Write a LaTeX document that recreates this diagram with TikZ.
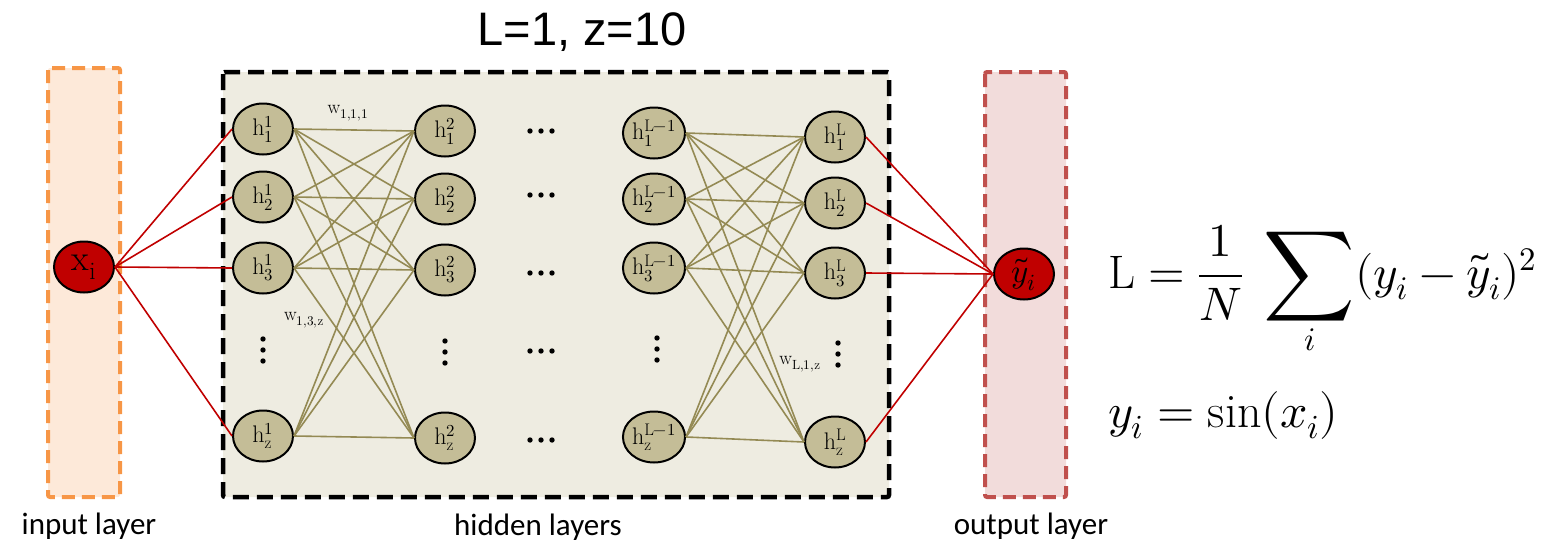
\documentclass[tikz,border=0pt]{standalone}
\usepackage{fontspec}
\usepackage{unicode-math}
\setmathfont{Latin Modern Math}
\usepackage{graphicx}
\usetikzlibrary{shapes.geometric}
\newfontfamily\titlefont{Liberation Sans}
\newfontfamily\labelfont{Carlito}

\definecolor{inFill}{HTML}{FDE9D9}
\definecolor{inEdge}{HTML}{F79646}
\definecolor{hidFill}{HTML}{EEECE1}
\definecolor{outFill}{HTML}{F2DCDB}
\definecolor{outEdge}{HTML}{C0504D}
\definecolor{neuronFill}{HTML}{C4BD97}
\definecolor{weightCol}{HTML}{948A54}
\definecolor{sigRed}{HTML}{C00000}

\tikzset{
  neuron/.style={ellipse, draw=black, line width=2pt, fill=neuronFill,
    minimum width=60pt, minimum height=51pt, inner sep=0pt,
    font=\fontsize{24}{28}\selectfont},
  ioneuron/.style={neuron, fill=sigRed},
  weight/.style={draw=weightCol, line width=1.6pt},
  signal/.style={draw=sigRed, line width=1.6pt},
  wlabel/.style={inner sep=0pt, font=\fontsize{19}{22}\selectfont},
  layerlabel/.style={inner sep=0pt, font=\labelfont\fontsize{31}{36}\selectfont},
  dotmark/.style={fill=black}
}

\begin{document}
\begin{tikzpicture}[x=1pt,y=-1pt]
\useasboundingbox (0,0) rectangle (1543,549);

% layer frames
\draw[fill=inFill, draw=inEdge, line width=4pt, dash pattern=on 13pt off 7pt,
  rounded corners=2pt] (48,68) rectangle (120,497);
\draw[fill=hidFill, draw=black, line width=4.5pt, dash pattern=on 16pt off 8pt,
  rounded corners=2pt] (223,72) rectangle (889,497);
\draw[fill=outFill, draw=outEdge, line width=4pt, dash pattern=on 13pt off 7pt,
  rounded corners=2pt] (985,72) rectangle (1066,497);

% title and layer captions
\node[inner sep=0pt, font=\titlefont\fontsize{47}{56}\selectfont] (title) at (582,32) {L=1, z=10};
\node[layerlabel] (inlab) at (89,526) {input layer};
\node[layerlabel] (hidlab) at (538,527) {hidden layers};
\node[layerlabel] (outlab) at (1031,526) {output layer};

% input and output neurons
\node[ioneuron, font=\fontsize{36}{40}\selectfont] (x) at (84,267) {$\mathrm{x}_{\mathrm{i}}$};
\node[ioneuron, font=\fontsize{33}{38}\selectfont] (y) at (1024,274) {$\tilde{y}_{i}$};

% hidden layer 1
\node[neuron] (a1) at (263,129) {$\mathrm{h}^{1}_{1}$};
\node[neuron] (a2) at (263,197) {$\mathrm{h}^{1}_{2}$};
\node[neuron] (a3) at (263,268) {$\mathrm{h}^{1}_{3}$};
\node[neuron] (az) at (263,436) {$\mathrm{h}^{1}_{\mathrm{z}}$};
% hidden layer 2
\node[neuron] (b1) at (445,131) {$\mathrm{h}^{2}_{1}$};
\node[neuron] (b2) at (445,199) {$\mathrm{h}^{2}_{2}$};
\node[neuron] (b3) at (445,270) {$\mathrm{h}^{2}_{3}$};
\node[neuron] (bz) at (445,438) {$\mathrm{h}^{2}_{\mathrm{z}}$};
% hidden layer L-1
\node[neuron] (c1) at (654,133) {$\mathrm{h}^{\mathrm{L}-1}_{1}$};
\node[neuron] (c2) at (654,199) {$\mathrm{h}^{\mathrm{L}-1}_{2}$};
\node[neuron] (c3) at (654,268) {$\mathrm{h}^{\mathrm{L}-1}_{3}$};
\node[neuron] (cz) at (654,437) {$\mathrm{h}^{\mathrm{L}-1}_{\mathrm{z}}$};
% hidden layer L
\node[neuron] (d1) at (835,137) {$\mathrm{h}^{\mathrm{L}}_{1}$};
\node[neuron] (d2) at (835,203) {$\mathrm{h}^{\mathrm{L}}_{2}$};
\node[neuron] (d3) at (835,273) {$\mathrm{h}^{\mathrm{L}}_{3}$};
\node[neuron] (dz) at (835,442) {$\mathrm{h}^{\mathrm{L}}_{\mathrm{z}}$};

% input to first hidden layer
\foreach \k in {1,2,3,z} \draw[signal] (x.east) -- (a\k.west);
% fully connected hidden layers
\foreach \i in {1,2,3,z} {
  \foreach \j in {1,2,3,z} {
    \draw[weight] (a\i.east) -- (b\j.west);
    \draw[weight] (c\i.east) -- (d\j.west);
  }
}
% last hidden layer to output
\foreach \k in {1,2,3,z} \draw[signal] (d\k.east) -- (y.west);

% weight labels
\node[wlabel] (w111) at (348,113) {$\mathrm{w}_{1,1,1}$};
\node[wlabel] (w13z) at (304,320) {$\mathrm{w}_{1,3,\mathrm{z}}$};
\node[wlabel] (wL1z) at (800,364) {$\mathrm{w}_{\mathrm{L},1,\mathrm{z}}$};

% vertical ellipses inside the layers
\foreach \cx/\cy in {263/350, 445/352, 657/349, 838/354} {
  \foreach \d in {-11,0,11} \fill[dotmark] (\cx,\cy+\d) circle (2.7pt);
}
% horizontal ellipses between layer 2 and layer L-1
\foreach \cy in {131,195,273,351,440} {
  \foreach \d in {-11,0,11} \fill[dotmark] (541+\d,\cy) circle (2.7pt);
}

% loss and target function
\node[anchor=base west, inner sep=0pt, font=\fontsize{47}{55}\selectfont] (loss) at (1108,288)
  {$\mathrm{L}=\dfrac{1}{N}\;\mathop{\vcenter{\hbox{\scalebox{1.35}{$\displaystyle\sum$}}}}\limits_{i}(y_i-\tilde{y}_i)^2$};
\node[anchor=base west, inner sep=0pt, font=\fontsize{48}{56}\selectfont] (target) at (1108,427)
  {$y_i=\sin(x_i)$};
\end{tikzpicture}
\end{document}
